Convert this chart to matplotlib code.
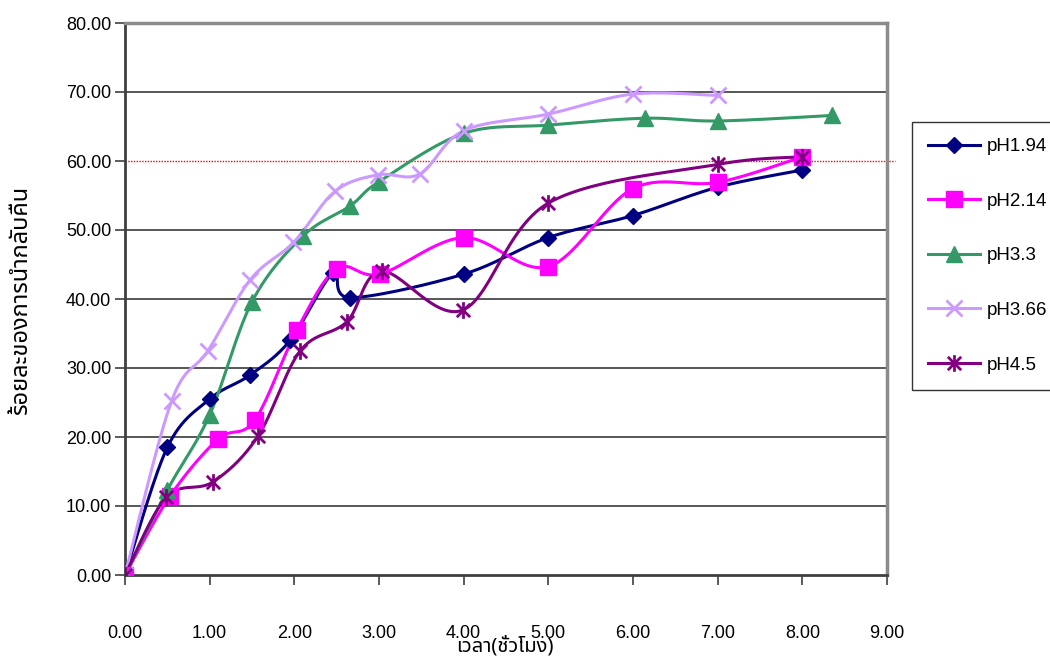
import numpy as np
import matplotlib
matplotlib.use("Agg")
import matplotlib.pyplot as plt
from matplotlib.path import Path

# ร้อยละการนำกลับคืน ที่ pH ต่าง ๆ (เวลา ชั่วโมง)
ph194_x = [0, 0.5, 1.0, 1.48, 1.95, 2.46, 2.66, 4.0, 5.0, 6.0, 7.0, 8.0]
ph194_y = [0, 18.5, 25.5, 29.0, 34.0, 43.8, 40.2, 43.6, 48.9, 52.1, 56.2, 58.7]

ph214_x = [0, 0.53, 1.1, 1.53, 2.03, 2.5, 3.01, 4.0, 5.0, 6.0, 7.0, 8.0]
ph214_y = [0, 11.4, 19.7, 22.4, 35.5, 44.4, 43.6, 48.9, 44.7, 56.0, 56.9, 60.6]

ph33_x = [0, 0.5, 1.0, 1.5, 2.1, 2.66, 3.0, 4.0, 5.0, 6.14, 7.0, 8.35]
ph33_y = [0, 12.3, 23.2, 39.6, 49.1, 53.5, 57.0, 64.0, 65.2, 66.2, 65.8, 66.6]

ph366_x = [0, 0.55, 0.98, 1.48, 1.99, 2.48, 2.99, 3.48, 4.0, 5.0, 6.0, 7.0]
ph366_y = [0, 25.2, 32.5, 42.8, 48.2, 55.6, 58.0, 58.1, 64.4, 66.8, 69.7, 69.5]

ph45_x = [0, 0.49, 1.04, 1.57, 2.07, 2.62, 3.03, 3.99, 5.0, 7.0, 8.0]
ph45_y = [0, 11.3, 13.5, 20.1, 32.5, 36.7, 44.0, 38.4, 53.9, 59.5, 60.6]

labels = ["pH1.94", "pH2.14", "pH3.3", "pH3.66", "pH4.5"]
colors = ["#000080", "#FF00FF", "#339966", "#CC99FF", "#800080"]

target = 60.0
xticks = np.arange(0, 9.01, 1.0)
yticks = np.arange(0, 80.01, 10.0)

# เครื่องหมายดอกจัน (กากบาท + เส้นตั้ง)
star = Path(
    [(-1, -1), (1, 1), (-1, 1), (1, -1), (0, -1.25), (0, 1.25)],
    [Path.MOVETO, Path.LINETO, Path.MOVETO, Path.LINETO, Path.MOVETO, Path.LINETO],
)


def smooth(x, y, n=30):
    """เส้นโค้งเรียบแบบ Bezier ผ่านทุกจุด"""
    p = np.column_stack([x, y]).astype(float)
    out = [p[0]]
    for i in range(len(p) - 1):
        p0 = p[i - 1] if i > 0 else p[i]
        p1 = p[i]
        p2 = p[i + 1]
        p3 = p[i + 2] if i + 2 < len(p) else p[i + 1]
        c1 = p1 + (p2 - p0) / 6.0
        c2 = p2 - (p3 - p1) / 6.0
        t = np.linspace(0, 1, n)[1:, None]
        seg = ((1 - t) ** 3) * p1 + 3 * ((1 - t) ** 2) * t * c1 + 3 * (1 - t) * t ** 2 * c2 + t ** 3 * p2
        out.extend(seg)
    out = np.array(out)
    return out[:, 0], out[:, 1]


series = [
    (ph194_x, ph194_y, dict(marker="D", ms=8, mfc=colors[0], mec=colors[0])),
    (ph214_x, ph214_y, dict(marker="s", ms=11, mfc=colors[1], mec=colors[1])),
    (ph33_x, ph33_y, dict(marker="^", ms=11, mfc=colors[2], mec=colors[2])),
    (ph366_x, ph366_y, dict(marker="x", ms=11, mew=2, mec=colors[3])),
    (ph45_x, ph45_y, dict(marker=star, ms=12, mew=2, mfc="none", mec=colors[4])),
]

sans = ["Liberation Sans", "DejaVu Sans"]
thai = ["Noto Sans Thai", "DejaVu Sans"]

fig = plt.figure(figsize=(10.5, 6.57), dpi=100)
ax = fig.add_axes([125 / 1050, 82 / 657, 762 / 1050, 552 / 657])

for yv in yticks[1:-1]:
    if yv != target:
        ax.axhline(yv, color="#3a3a3a", lw=1.2, zorder=1)
ax.plot([0, 9.1], [target, target], color="red", lw=1, ls=(0, (1, 1)), zorder=2, clip_on=False)

handles = []
for (x, y, mk), lab, c in zip(series, labels, colors):
    sx, sy = smooth(x, y)
    ax.plot(sx, sy, color=c, lw=2.2, zorder=3)
    ax.plot(x, y, ls="none", zorder=4, **mk)
    h, = ax.plot([], [], color=c, lw=2.2, label=lab, **mk)
    handles.append(h)

ax.set_xlim(0, 9)
ax.set_ylim(0, 80)
ax.set_xticks(xticks)
ax.set_yticks(yticks)
ax.set_xticklabels([f"{v:.2f}" for v in xticks], family=sans, fontsize=13)
ax.set_yticklabels([f"{v:.2f}" for v in yticks], family=sans, fontsize=13)
ax.tick_params(axis="x", direction="out", length=7, width=1.2, color="#404040", pad=29)
ax.tick_params(axis="y", direction="out", length=7, width=1.2, color="#404040", pad=3)

for side in ["left", "bottom"]:
    ax.spines[side].set_color("#404040")
    ax.spines[side].set_linewidth(2)
for side in ["top", "right"]:
    ax.spines[side].set_color("#8c8c8c")
    ax.spines[side].set_linewidth(2.5)

fig.text(505 / 1050, 1 - 646 / 657, "เวลา(ชั่วโมง)", family=thai, fontsize=14.5,
         ha="center", va="center")
fig.text(21 / 1050, 1 - 300 / 657, "ร้อยละของการนำกลับคืน", family=thai, fontsize=17,
         ha="center", va="center", rotation=90)

leg = fig.legend(
    handles=handles,
    loc="upper left",
    bbox_to_anchor=(912 / 1050, 1 - 122 / 657),
    frameon=True,
    fancybox=False,
    borderaxespad=0,
    handlelength=2.8,
    handletextpad=0.35,
    labelspacing=2.0,
    borderpad=0.85,
    prop={"family": sans, "size": 13.5},
)
leg.get_frame().set_edgecolor("black")
leg.get_frame().set_linewidth(1)

fig.savefig("out.png", dpi=100)
